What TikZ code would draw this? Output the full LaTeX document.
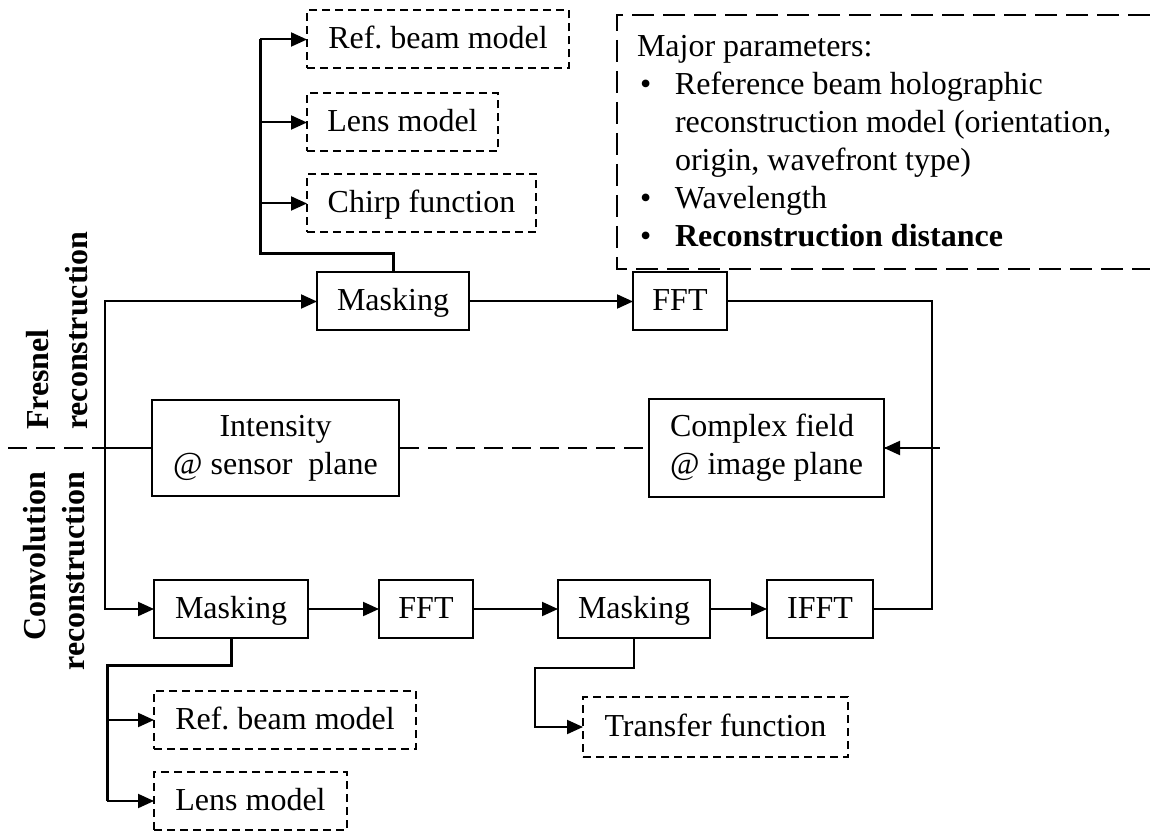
\documentclass[tikz,border=0pt]{standalone}
\usepackage{fontspec}
\setmainfont{Liberation Serif}
\usetikzlibrary{arrows.meta}
\newcommand{\pbul}{\hspace*{1.5pt}\makebox[17.5pt][l]{\textbullet}}
\newcommand{\pind}{\hspace*{19pt}}

\begin{document}
\begin{tikzpicture}[x=0.5pt,y=0.5pt,line width=1pt,
  every node/.style={inner sep=0pt,outer sep=0pt,font=\fontsize{16pt}{19pt}\selectfont},
  blk/.style={draw,fill=white,minimum height=29pt,text height=11pt,text depth=2pt},
  dbox/.style={draw,fill=white,dash pattern=on 4pt off 2.5pt,minimum height=29pt,text height=11pt,text depth=2pt},
  arr/.style={-{Triangle[length=8pt,width=7pt]}},
  bus/.style={line width=1.5pt},
  lab/.style={font=\fontsize{16pt}{19.5pt}\selectfont\bfseries,rotate=90}]
  % 画布 1150x831px，1px = 0.5pt；Y = 831 - 源图 y
  \path[use as bounding box] (0,0) rectangle (1150,831);
  % ---- 分隔虚线（Fresnel / Convolution 两支之间）----
  \draw[dash pattern=on 9.5pt off 4.5pt] (8,383) -- (940,383);
  % ---- 参数框：右边出画，只画三边 ----
  \draw[dash pattern=on 11pt off 4.5pt] (1150,816) -- (617,816) -- (617,562) -- (1150,562);
  \node[anchor=north west,align=left] (par) at (637,796) {Major parameters:\\\pbul Reference beam holographic\\\pind reconstruction model (orientation,\\\pind origin, wavefront type)\\\pbul Wavelength\\\pbul\textbf{Reconstruction distance}};
  % ---- 上支：Fresnel ----
  \node[dbox,minimum width=131pt]   (refA)  at (438,791.5)   {Ref.\ beam model};  % px x 307-569
  \node[dbox,minimum width=95.5pt]  (lensA) at (402.5,708.5) {Lens model};        % px x 307-498
  \node[dbox,minimum width=114.5pt] (chirp) at (421.5,627.5) {Chirp function};    % px x 307-536
  \node[blk,minimum width=76pt]     (maskA) at (393,529.5)   {Masking};           % px x 317-469
  \node[blk,minimum width=47pt]     (fftA)  at (680,529.5)   {FFT};               % px x 633-727
  % ---- 中间两框 ----
  \node[draw,fill=white,minimum width=123.5pt,minimum height=48pt,align=center] (intens) at (275.5,383) {Intensity\\@ sensor\ \ plane}; % px x 152-399
  \node[draw,fill=white,minimum width=117.5pt,minimum height=49pt,align=left] (cplx) at (766.5,383) {Complex field\\@ image plane};     % px x 649-884
  % ---- 下支：Convolution ----
  \node[blk,minimum width=77pt]     (maskB) at (231,222)     {Masking};           % px x 154-308
  \node[blk,minimum width=47pt]     (fftB)  at (426,222)     {FFT};               % px x 379-473
  \node[blk,minimum width=76pt]     (maskC) at (634,222)     {Masking};           % px x 558-710
  \node[blk,minimum width=53pt]     (ifft)  at (820,222)     {IFFT};              % px x 767-873
  \node[dbox,minimum width=131pt]   (refB)  at (285,111)     {Ref.\ beam model};  % px x 154-416
  \node[dbox,minimum width=96.5pt]  (lensB) at (250.5,30)    {Lens model};        % px x 154-347
  \node[dbox,minimum width=132.5pt,minimum height=30pt] (trans) at (715.5,104) {Transfer function}; % px x 583-848
  % ---- 竖排粗体标签：贴分隔线对齐 ----
  \node[lab,align=left,anchor=west]  (fres) at (57.5,401) {Fresnel\\reconstruction};
  \node[lab,align=right,anchor=east] (conv) at (54,359)   {Convolution\\reconstruction};
  % ---- 连线 ----
  \coordinate (busA) at (260,577);
  \coordinate (busL) at (105,0);
  \coordinate (busR) at (932,0);
  \coordinate (busB) at (107,166);
  \coordinate (busC) at (535,163);
  \draw[bus] (maskA.north) |- (busA) -- (busA |- refA.west);
  \foreach \n in {refA,lensA,chirp} \draw[arr] (busA |- \n.west) -- (\n.west);
  \draw (intens.west) -- (intens.west -| busL);
  \draw[arr] (intens.west -| busL) |- (maskA.west);
  \draw[arr] (intens.west -| busL) |- (maskB.west);
  \draw[arr] (maskA.east) -- (fftA.west);
  \draw (fftA.east) -| (busR |- ifft.east) -- (ifft.east);
  \draw[arr] (busR |- cplx.east) -- (cplx.east);
  \draw[arr] (maskB.east) -- (fftB.west);
  \draw[arr] (fftB.east) -- (maskC.west);
  \draw[arr] (maskC.east) -- (ifft.west);
  \draw[bus] (maskB.south) |- (busB) -- (busB |- lensB.west);
  \foreach \n in {refB,lensB} \draw[arr] (busB |- \n.west) -- (\n.west);
  \draw[arr] (maskC.south) |- (busC) |- (trans.west);
\end{tikzpicture}
\end{document}
